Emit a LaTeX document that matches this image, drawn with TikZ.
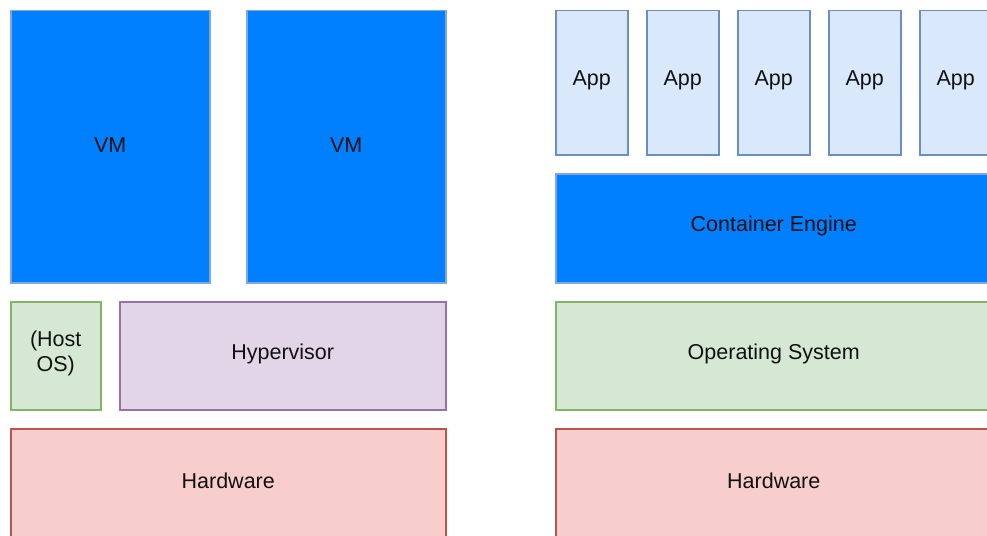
\documentclass[tikz,border=0pt]{standalone}
\usepackage{fontspec}
\setmainfont{Liberation Sans}
\definecolor{vmfill}{HTML}{007FFF}
\definecolor{vmdraw}{HTML}{7EA6E0}
\definecolor{bluefill}{HTML}{DAE8FC}
\definecolor{bluedraw}{HTML}{6C8EBF}
\definecolor{greenfill}{HTML}{D5E8D4}
\definecolor{greendraw}{HTML}{82B366}
\definecolor{purplefill}{HTML}{E1D5E7}
\definecolor{purpledraw}{HTML}{9673A6}
\definecolor{redfill}{HTML}{F8CECC}
\definecolor{reddraw}{HTML}{B85450}
\definecolor{txt}{HTML}{111111}
\tikzset{
  box/.style={rectangle, anchor=north west, line width=1.5pt, inner sep=0pt,
    font=\fontsize{21.5}{25}\selectfont, text=txt, align=center},
  lbl/.style={font=\fontsize{21.5}{25}\selectfont, text=txt, align=center, inner sep=0pt},
  vmbox/.style={box, fill=vmfill, draw=vmdraw},
  appbox/.style={box, fill=bluefill, draw=bluedraw},
  osbox/.style={box, fill=greenfill, draw=greendraw},
  hvbox/.style={box, fill=purplefill, draw=purpledraw},
  hwbox/.style={box, fill=redfill, draw=reddraw}
}
\begin{document}
\begin{tikzpicture}[x=1pt,y=-1pt]
\useasboundingbox (0,0) rectangle (987,535);
% left stack
\node[vmbox, minimum width=199pt, minimum height=272pt] (vm1) at (10,10) {};
\node[lbl] (vm1t) at ([yshift=2pt]vm1.center) {VM};
\node[vmbox, minimum width=199pt, minimum height=272pt] (vm2) at (246,10) {};
\node[lbl] (vm2t) at ([yshift=2pt]vm2.center) {VM};
\node[osbox, minimum width=90pt, minimum height=108pt] (hostos) at (10,301) {};
\node[lbl] (hostost) at ([yshift=2pt]hostos.center) {(Host\\OS)};
\node[hvbox, minimum width=326pt, minimum height=108pt] (hyper) at (119,301) {};
\node[lbl] (hypert) at ([yshift=2pt]hyper.center) {Hypervisor};
\node[hwbox, minimum width=435pt, minimum height=109pt] (hw1) at (10,428) {};
\node[lbl] (hw1t) at ([yshift=2pt]hw1.center) {Hardware};
% right stack
\node[appbox, minimum width=72pt, minimum height=144pt] (app1) at (555,10) {};
\node[lbl] (app1t) at ([yshift=2pt]app1.center) {App};
\node[appbox, minimum width=72pt, minimum height=144pt] (app2) at (646,10) {};
\node[lbl] (app2t) at ([yshift=2pt]app2.center) {App};
\node[appbox, minimum width=72pt, minimum height=144pt] (app3) at (737,10) {};
\node[lbl] (app3t) at ([yshift=2pt]app3.center) {App};
\node[appbox, minimum width=72pt, minimum height=144pt] (app4) at (828,10) {};
\node[lbl] (app4t) at ([yshift=2pt]app4.center) {App};
\node[appbox, minimum width=72pt, minimum height=144pt] (app5) at (919,10) {};
\node[lbl] (app5t) at ([yshift=2pt]app5.center) {App};
\node[vmbox, minimum width=436pt, minimum height=109pt] (engine) at (555,173) {};
\node[lbl] (enginet) at ([yshift=2pt]engine.center) {Container Engine};
\node[osbox, minimum width=436pt, minimum height=108pt] (os) at (555,301) {};
\node[lbl] (ost) at ([yshift=2pt]os.center) {Operating System};
\node[hwbox, minimum width=436pt, minimum height=109pt] (hw2) at (555,428) {};
\node[lbl] (hw2t) at ([yshift=2pt]hw2.center) {Hardware};
\end{tikzpicture}
\end{document}
